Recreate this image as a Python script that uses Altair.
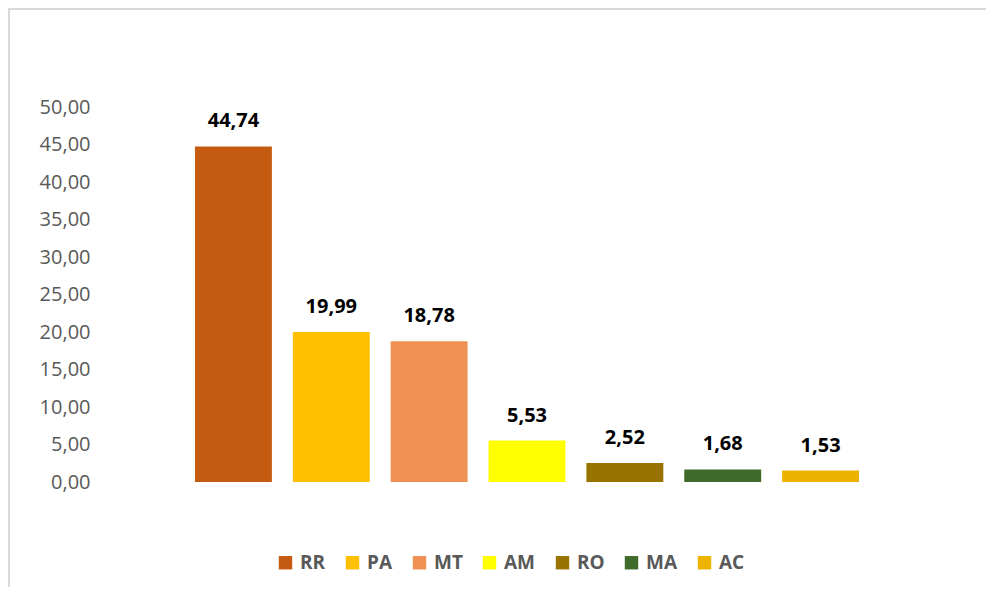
import altair as alt
import pandas as pd

states = ["RR", "PA", "MT", "AM", "RO", "MA", "AC"]
values = [44.74, 19.99, 18.78, 5.53, 2.52, 1.68, 1.53]
colors = ["#C55A11", "#FFC000", "#EE9152", "#FFFF00", "#997300", "#3F6B2A", "#EEB200"]
y_ticks = [0, 5, 10, 15, 20, 25, 30, 35, 40, 45, 50]

df = pd.DataFrame({
    "state": states,
    "value": values,
    "label": [f"{v:.2f}".replace(".", ",") for v in values],
})

FONT = "Open Sans"

x = alt.X("state:N", sort=states, axis=None,
          scale=alt.Scale(paddingInner=0.214, paddingOuter=0.112))
y = alt.Y("value:Q", scale=alt.Scale(domain=[0, 50], nice=False),
          axis=alt.Axis(values=y_ticks, tickCount=11,
                        labelExpr="replace(format(datum.value, '.2f'), '.', ',')",
                        grid=False, domain=False, ticks=False, labelPadding=94,
                        labelOverlap=False,
                        labelFontSize=20, labelColor="#595959", labelFont=FONT,
                        title=None))

bars = alt.Chart(df).mark_bar().encode(
    x=x, y=y,
    color=alt.Color("state:N", sort=states,
                    scale=alt.Scale(domain=states, range=colors),
                    legend=alt.Legend(orient="none", legendX=92, legendY=446,
                                      direction="horizontal", columns=7,
                                      symbolType="square", symbolSize=180,
                                      symbolStrokeWidth=0,
                                      labelFontSize=19, labelFontWeight="bold",
                                      labelColor="#595959", labelFont=FONT,
                                      labelOffset=5, columnPadding=17,
                                      title=None)),
)

text = alt.Chart(df).mark_text(fontSize=20, fontWeight="bold", color="#000000",
                               font=FONT, baseline="alphabetic", dy=-19).encode(
    x=x, y=y, text="label:N")

frame_top = alt.Chart(df).mark_rule(color="#D9D9D9", strokeWidth=2).encode(
    x=alt.value(-176), x2=alt.value(810), y=alt.value(-98))
frame_left = alt.Chart(df).mark_rule(color="#D9D9D9", strokeWidth=2).encode(
    x=alt.value(-175), y=alt.value(-98), y2=alt.value(480))

chart = alt.layer(frame_top, frame_left, bars, text).properties(
    width=686, height=375,
    autosize=alt.AutoSizeParams(type="none"),
    padding={"left": 176, "top": 99, "right": 116, "bottom": 109},
    background="white",
).configure_view(stroke=None)

chart.save("out.html", embed_options={"renderer": "svg", "actions": False})
